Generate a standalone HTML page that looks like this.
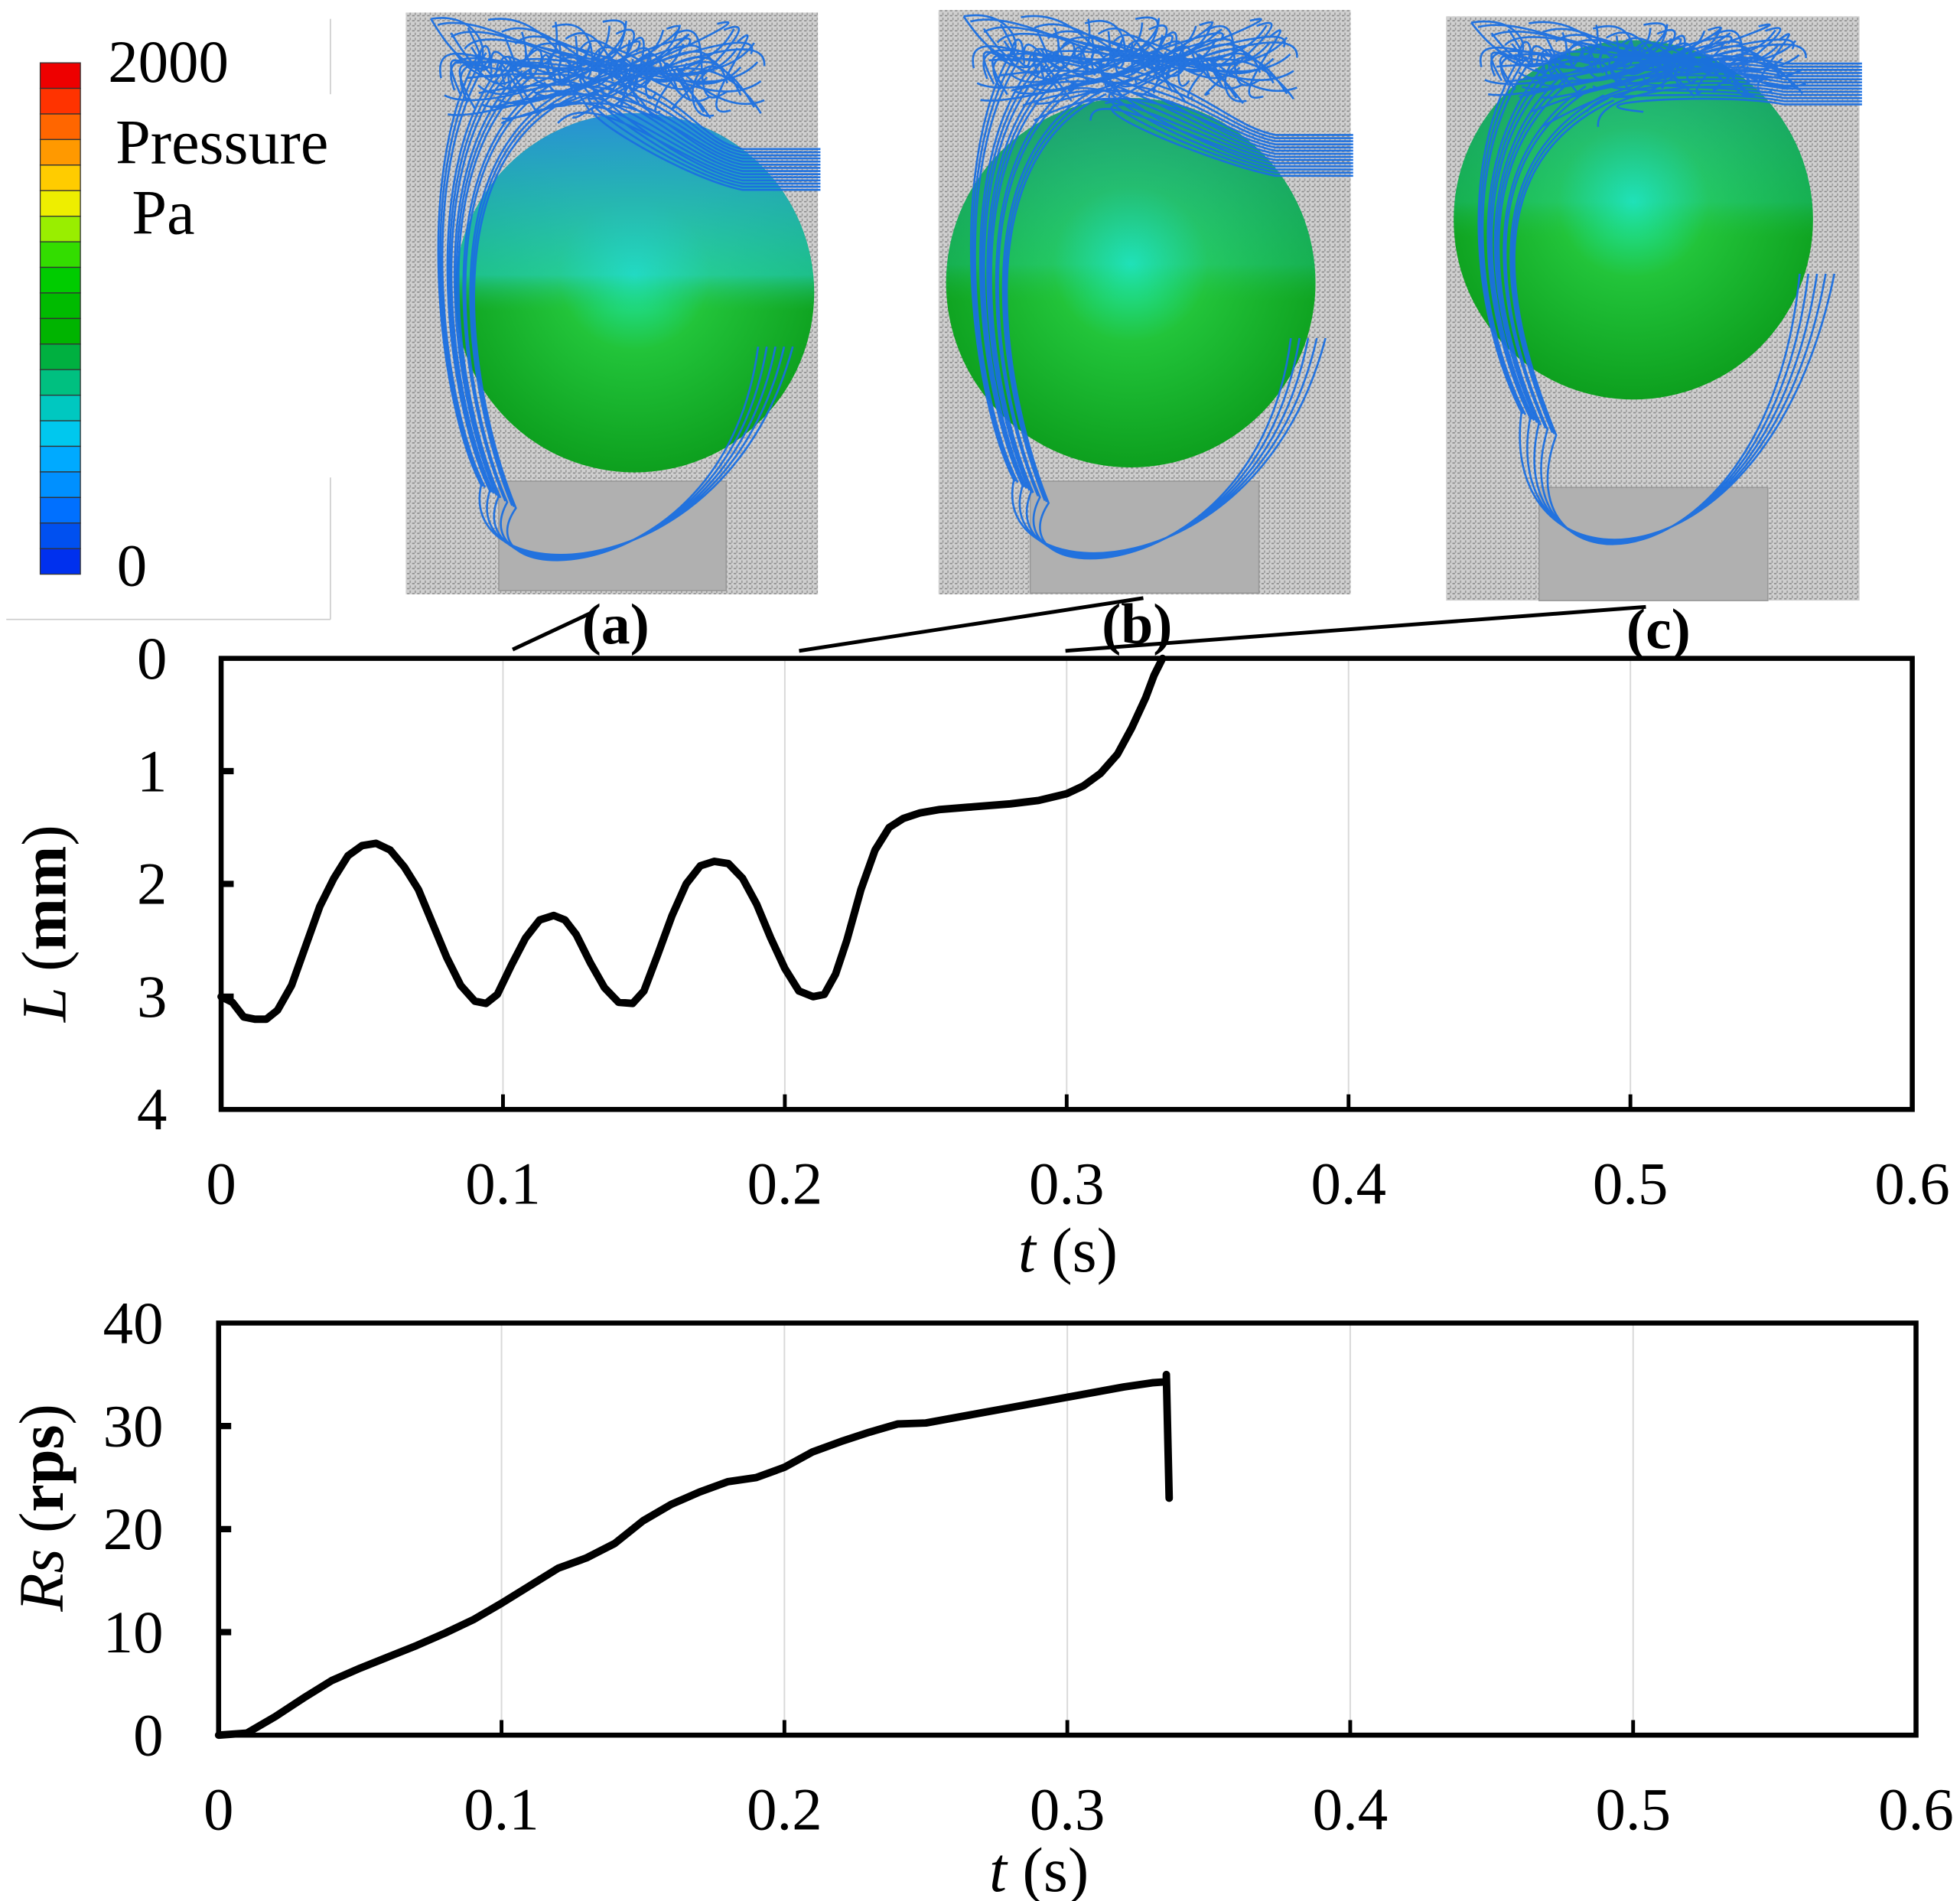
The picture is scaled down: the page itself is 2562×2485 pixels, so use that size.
<!DOCTYPE html>
<html><head><meta charset="utf-8"><style>
html,body{margin:0;padding:0;background:#fff}
svg{display:block}
text{font-family:"Liberation Serif",serif;fill:#000}
</style></head><body>
<svg id="fig" width="2562" height="2485" viewBox="0 0 1560 1513" preserveAspectRatio="none" xmlns="http://www.w3.org/2000/svg">
<defs>
<radialGradient id="sph" cx="0.5" cy="0.45" r="0.6">
<stop offset="0" stop-color="#1de8b0"/><stop offset="0.35" stop-color="#22c43a"/><stop offset="1" stop-color="#0a9a1a"/>
</radialGradient>
<linearGradient id="sphTopA" x1="0" y1="0" x2="0" y2="1">
<stop offset="0" stop-color="#2a8ee0" stop-opacity="0.95"/><stop offset="0.45" stop-color="#26d0d0" stop-opacity="0.6"/><stop offset="0.55" stop-color="#20c060" stop-opacity="0"/>
</linearGradient>
<pattern id="mesh" width="4" height="4" patternUnits="userSpaceOnUse">
<rect width="4" height="4" fill="#cfcfcf"/><rect x="0" y="0" width="2" height="1" fill="#8a8a8a"/><rect x="2" y="2" width="1" height="2" fill="#999"/>
</pattern>
</defs>

<g>
<line x1="263" y1="15" x2="263" y2="75" stroke="#ccc" stroke-width="1"/>
<line x1="263" y1="380" x2="263" y2="493" stroke="#ccc" stroke-width="1"/>
<line x1="5" y1="493" x2="263" y2="493" stroke="#ccc" stroke-width="1"/>
<g id="cbar"></g>
<text x="86" y="65" font-size="48">2000</text>
<text x="92" y="130" font-size="50">Pressure</text>
<text x="105" y="186" font-size="50">Pa</text>
<text x="93" y="466" font-size="48">0</text>
</g>

<g id="panels"></g>

<g stroke="#000" stroke-width="3">
<line x1="408" y1="517" x2="470" y2="488"/>
<line x1="636" y1="518" x2="910" y2="476"/>
<line x1="848" y1="518" x2="1310" y2="483"/>
</g>
<text x="490" y="512" font-size="46" font-weight="bold" text-anchor="middle">(a)</text>
<text x="905" y="512" font-size="46" font-weight="bold" text-anchor="middle">(b)</text>
<text x="1320" y="516" font-size="46" font-weight="bold" text-anchor="middle">(c)</text>

<g id="chart1"></g>
<g id="chart2"></g>
</svg>
<script>
const xTicks = [0, 0.1, 0.2, 0.3, 0.4, 0.5, 0.6];
const xTickLabels = ["0", "0.1", "0.2", "0.3", "0.4", "0.5", "0.6"];
const lTicks = [0, 1, 2, 3, 4];
const lTickLabels = ["0", "1", "2", "3", "4"];
const rsTicks = [0, 10, 20, 30, 40];
const rsTickLabels = ["0", "10", "20", "30", "40"];
const lTime = [0, 0.004, 0.008, 0.012, 0.016, 0.02, 0.025, 0.03, 0.035, 0.04, 0.045, 0.05, 0.055, 0.06, 0.065, 0.07, 0.075, 0.08, 0.085, 0.09, 0.094, 0.098, 0.103, 0.108, 0.113, 0.118, 0.122, 0.126, 0.131, 0.136, 0.141, 0.146, 0.15, 0.155, 0.16, 0.165, 0.17, 0.175, 0.18, 0.185, 0.19, 0.195, 0.2, 0.205, 0.21, 0.214, 0.218, 0.222, 0.227, 0.232, 0.237, 0.242, 0.248, 0.255, 0.265, 0.28, 0.29, 0.3, 0.306, 0.312, 0.318, 0.323, 0.328, 0.331, 0.334];
const lValue = [3.0, 3.05, 3.18, 3.2, 3.2, 3.12, 2.9, 2.55, 2.2, 1.95, 1.75, 1.66, 1.64, 1.7, 1.85, 2.05, 2.35, 2.65, 2.9, 3.04, 3.06, 2.98, 2.72, 2.48, 2.32, 2.28, 2.32, 2.45, 2.7, 2.92, 3.05, 3.06, 2.95, 2.62, 2.28, 2.0, 1.84, 1.8, 1.82, 1.95, 2.18, 2.48, 2.75, 2.95, 3.0, 2.98, 2.8, 2.5, 2.05, 1.7, 1.5, 1.42, 1.37, 1.34, 1.32, 1.29, 1.26, 1.2, 1.13, 1.02, 0.85, 0.62, 0.35, 0.15, 0.0];
const rsTime = [0, 0.01, 0.02, 0.03, 0.04, 0.05, 0.06, 0.07, 0.08, 0.09, 0.1, 0.11, 0.12, 0.13, 0.14, 0.15, 0.16, 0.17, 0.18, 0.19, 0.2, 0.21, 0.22, 0.23, 0.24, 0.25, 0.26, 0.27, 0.28, 0.29, 0.3, 0.31, 0.32, 0.33, 0.335, 0.335, 0.336];
const rsValue = [0, 0.2, 1.8, 3.6, 5.3, 6.5, 7.6, 8.7, 9.9, 11.2, 12.8, 14.5, 16.2, 17.2, 18.6, 20.8, 22.4, 23.6, 24.6, 25.0, 26.0, 27.5, 28.5, 29.4, 30.2, 30.3, 30.8, 31.3, 31.8, 32.3, 32.8, 33.3, 33.8, 34.2, 34.3, 35.0, 23.0];

const NS = "http://www.w3.org/2000/svg";
function mk(tag, attrs, parent) {
  const e = document.createElementNS(NS, tag);
  for (const k in attrs) e.setAttribute(k, attrs[k]);
  parent.appendChild(e);
  return e;
}

function drawChart(g, cfg) {
  const X = t => cfg.left + (t - 0) / 0.6 * (cfg.right - cfg.left);
  const Y = v => cfg.inverted
    ? cfg.top + (v - cfg.ymin) / (cfg.ymax - cfg.ymin) * (cfg.bottom - cfg.top)
    : cfg.bottom - (v - cfg.ymin) / (cfg.ymax - cfg.ymin) * (cfg.bottom - cfg.top);
  xTicks.forEach((t, i) => {
    if (i === 0 || i === xTicks.length - 1) return;
    const gl = mk("line", {x1: X(t), x2: X(t), y1: cfg.top, y2: cfg.bottom, stroke: "#d9d9d9", "stroke-width": 1.2}, g);
    
    
    const tk = mk("line", {x1: X(t), x2: X(t), y1: cfg.bottom, y2: cfg.bottom - 12, stroke: "#000", "stroke-width": 3}, g);
    
    
  });
  xTicks.forEach((t, i) => {
    const tx = mk("text", {x: X(t), y: cfg.xLabelY, "font-size": 48, "text-anchor": "middle"}, g);
    tx.textContent = xTickLabels[i];
    
    
  });
  cfg.yTicks.forEach((v, i) => {
    if (i > 0 && i < cfg.yTicks.length - 1) {
      const tk = mk("line", {x1: cfg.left, x2: cfg.left + 10, y1: Y(v), y2: Y(v), stroke: "#000", "stroke-width": 5}, g);
      
      
    }
    const tx = mk("text", {x: cfg.yLabelX, y: Y(v) + 16, "font-size": 48, "text-anchor": "end"}, g);
    tx.textContent = cfg.yTickLabels[i];
    
    
  });
  const fr = mk("rect", {x: cfg.left, y: cfg.top, width: cfg.right - cfg.left, height: cfg.bottom - cfg.top, fill: "none", stroke: "#000", "stroke-width": 4}, g);
  
  
  let d = "";
  cfg.xs.forEach((t, i) => { d += (i ? "L" : "M") + X(t).toFixed(2) + "," + Y(cfg.ys[i]).toFixed(2); });
  const ln = mk("path", {d: d, fill: "none", stroke: "#000", "stroke-width": 6, "stroke-linejoin": "round", "stroke-linecap": "round"}, g);
  
  
  const xt = mk("text", {x: cfg.xTitleX, y: cfg.xTitleY, "font-size": 50, "text-anchor": "middle", "xml:space": "preserve"}, g);
  xt.innerHTML = '<tspan font-style="italic">t</tspan>  (s)';
  
  
  const yt = mk("text", {x: 0, y: 0, "font-size": 50, "text-anchor": "middle", transform: "translate(" + cfg.yTitleX + "," + cfg.yTitleY + ") rotate(-90)"}, g);
  yt.innerHTML = cfg.yTitle;
  
  
}

drawChart(document.getElementById("chart1"), {
  left: 176, right: 1522, top: 524, bottom: 883, ymin: 0, ymax: 4, inverted: true,
  yTicks: lTicks, yTickLabels: lTickLabels, xs: lTime, ys: lValue, seriesName: "displacement-line",
  xLabelY: 958, yLabelX: 133, xTitleX: 850, xTitleY: 1012, yTitleX: 52, yTitleY: 735,
  yTitle: '<tspan font-style="italic">L</tspan>  (<tspan font-weight="bold">mm</tspan>)'
});
drawChart(document.getElementById("chart2"), {
  left: 174, right: 1525, top: 1053, bottom: 1381, ymin: 0, ymax: 40, inverted: false,
  yTicks: rsTicks, yTickLabels: rsTickLabels, xs: rsTime, ys: rsValue, seriesName: "rotation-speed-line",
  xLabelY: 1456, yLabelX: 130, xTitleX: 827, xTitleY: 1505, yTitleX: 50, yTitleY: 1200,
  yTitle: '<tspan font-style="italic">Rs</tspan>  (<tspan font-weight="bold">rps</tspan>)'
});

const cbColors = ["#ee0000","#ff3300","#ff6600","#ff9900","#ffcc00","#eeee00","#99ee00","#33dd00","#00cc00","#00bb00","#00b400","#00b040","#00c080","#00c8c0","#00c8ee","#00aaff","#0090ff","#0070ff","#0050f0","#0030ee"];
const cb = document.getElementById("cbar");
cbColors.forEach((c, i) => {
  const h = (457 - 50) / cbColors.length;
  const r = mk("rect", {x: 32, y: 50 + i * h, width: 32, height: h, fill: c, stroke: "#333", "stroke-width": 0.8}, cb);
  
  
});

const panels = [
  {x: 323, y: 10, w: 328, h: 463, cx: 505, cy: 233, r: 143, bx: 397, by: 383, bw: 181, bh: 87, name: "panel-a"},
  {x: 747, y: 8, w: 328, h: 465, cx: 900, cy: 225, r: 147, bx: 820, by: 383, bw: 182, bh: 89, name: "panel-b"},
  {x: 1151, y: 13, w: 329, h: 465, cx: 1300, cy: 175, r: 143, bx: 1225, by: 388, bw: 182, bh: 90, name: "panel-c"}
];
const pg = document.getElementById("panels");
panels.forEach((p, k) => {
  const g = mk("g", {}, pg);
  
  
  mk("rect", {x: p.x, y: p.y, width: p.w, height: p.h, fill: "url(#mesh)"}, g);
  mk("rect", {x: p.bx, y: p.by, width: p.bw, height: p.bh, fill: "#b0b0b0", stroke: "#999"}, g);
  const s = mk("circle", {cx: p.cx, cy: p.cy, r: p.r, fill: "url(#sph)"}, g);
  
  
  mk("circle", {cx: p.cx, cy: p.cy, r: p.r, fill: "url(#sphTopA)", opacity: k === 0 ? 1 : 0.45}, g);
  const right = p.x + p.w;
  const topBand = Math.max(p.cy - p.r, p.y + 60);
  let d = "";
  // inlet bundle
  for (let i = 0; i < 14; i++) {
    const yy = p.cy - p.r * 0.8 + i * 2.5 - (k === 2 ? 10 : 0);
    d += "M" + (right + 2) + "," + yy + "L" + (right - 60) + "," + yy;
    d += "C" + (right - 110) + "," + (yy - 10) + " " + (p.cx + 40 - i * 8) + "," + (p.y + 30 + i * 3) + " " + (p.x + 40 + i * 9) + "," + (p.y + 40 + (i % 5) * 12);
  }
  // tangle at top
  for (let i = 0; i < 60; i++) {
    const a = ((i * 37) % 100) / 100, b = ((i * 61) % 100) / 100, c = ((i * 23) % 100) / 100;
    const x0 = p.x + 20 + a * (p.w - 60), y0 = p.y + 5 + b * (topBand - p.y);
    const x1 = p.x + 20 + c * (p.w - 60), y1 = p.y + 5 + a * (topBand - p.y);
    d += "M" + x0 + "," + y0 + "C" + (x0 + 60 - b * 120) + "," + (p.y - 5) + " " + (x1 + 50 - c * 100) + "," + (topBand + 10) + " " + x1 + "," + y1;
  }
  // side loops going down
  for (let i = 0; i < 14; i++) {
    const a = ((i * 41) % 100) / 100;
    d += "M" + (p.x + 60 + a * 80) + "," + (p.y + 30 + a * 40);
    d += "C" + (p.x + 5 + a * 15) + "," + (p.y + 120) + " " + (p.x + 25 + a * 30) + "," + (p.cy + p.r * 0.6) + " " + (p.x + 60 + a * 30) + "," + (p.cy + p.r + 10 + a * 20);
    if (i % 3 === 0) d += "C" + (p.x + 40) + "," + (p.y + p.h) + " " + (p.bx + p.bw) + "," + (p.y + p.h) + " " + (right - 20 - a * 30) + "," + (p.cy + p.r * 0.3);
  }
  const sl = mk("path", {d: d, fill: "none", stroke: "#1a6fe0", "stroke-width": 1.6, opacity: 0.95}, g);
  
  
});
</script>
</body></html>
